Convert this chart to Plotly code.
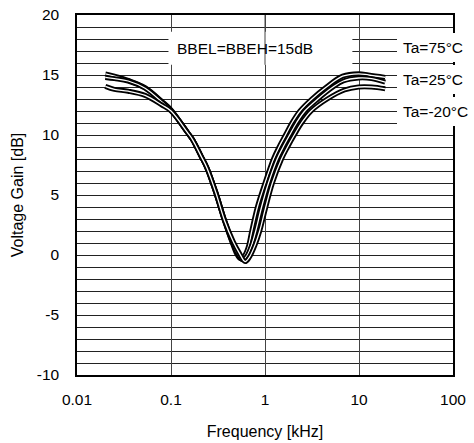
import plotly.graph_objects as go

# frequency [kHz] / gain [dB]
freq_75 = [0.02, 0.025, 0.035, 0.053, 0.08, 0.1, 0.15, 0.17, 0.21, 0.24, 0.30, 0.37, 0.45, 0.50, 0.545,
           0.60, 0.66, 0.723, 0.83, 1.0, 1.23, 1.41, 1.65, 1.93, 2.35, 3.15, 4.5, 6.7, 9.9, 12.6, 19]
gain_75 = [15.1, 14.9, 14.55, 13.95, 12.8, 12.1, 10.2, 9.6, 8.2, 7.3, 5.2, 2.9, 1.0, 0.1, -0.3,
           -0.1, 0.6, 2.0, 4.0, 6.0, 8.0, 9.0, 10.0, 11.0, 12.0, 13.0, 14.0, 14.9, 15.1, 15.0, 14.8]

freq_25 = [0.02, 0.025, 0.035, 0.053, 0.08, 0.1, 0.15, 0.17, 0.21, 0.24, 0.30, 0.37, 0.45, 0.51, 0.575,
           0.64, 0.72, 0.797, 0.92, 1.09, 1.35, 1.56, 1.83, 2.16, 2.65, 3.65, 5.3, 6.8, 9.9, 13.6, 19]
gain_25 = [14.8, 14.7, 14.5, 13.9, 12.75, 12.05, 10.2, 9.6, 8.2, 7.3, 5.2, 2.9, 1.05, 0.15, -0.4,
           -0.1, 0.8, 2.0, 4.0, 6.0, 8.0, 9.0, 10.0, 11.0, 12.0, 13.0, 14.0, 14.5, 14.75, 14.7, 14.4]

freq_m20 = [0.02, 0.025, 0.035, 0.053, 0.08, 0.1, 0.15, 0.17, 0.21, 0.24, 0.30, 0.37, 0.46, 0.53, 0.615,
            0.68, 0.78, 0.879, 1.02, 1.2, 1.5, 1.74, 2.05, 2.45, 3.1, 4.6, 7.0, 9.9, 13.6, 19]
gain_m20 = [14.05, 13.8, 13.65, 13.3, 12.5, 12.0, 10.2, 9.6, 8.2, 7.3, 5.2, 2.9, 1.1, 0.2, -0.55,
            -0.2, 0.8, 2.0, 4.0, 6.0, 8.0, 9.0, 10.0, 11.0, 12.0, 13.0, 13.75, 14.0, 14.0, 13.85]

x_ticks = [0.01, 0.1, 1, 10, 100]
x_ticktext = ["0.01", "0.1", "1", "10", "100"]
y_ticks = [-10, -5, 0, 5, 10, 15, 20]
y_ticktext = ["-10", "-5", "0", "5", "10", "15", "20"]
curve_labels = ["Ta=75°C", "Ta=25°C", "Ta=-20°C"]
label_y = [17.3, 14.65, 12.0]

FONT = "Liberation Sans, Arial, sans-serif"

fig = go.Figure()
for fx, gy in [(freq_75, gain_75), (freq_25, gain_25), (freq_m20, gain_m20)]:
    # outlined look: thick black stroke with thin white core
    fig.add_trace(go.Scatter(x=fx, y=gy, mode="lines", line=dict(color="black", width=5, shape="spline"),
                             showlegend=False, hoverinfo="skip"))
    fig.add_trace(go.Scatter(x=fx, y=gy, mode="lines", line=dict(color="white", width=1.3, shape="spline"),
                             showlegend=False, hoverinfo="skip"))

# white box behind the condition note, grid line at 1 kHz still crosses it
fig.add_shape(type="rect", xref="x", yref="y", x0=0.094, x1=8.5, y0=15.85, y1=18.6,
              fillcolor="white", line_width=0, layer="between")
fig.add_shape(type="line", xref="x", yref="y", x0=1, x1=1, y0=15.85, y1=20,
              line=dict(color="#444", width=1), layer="between")
fig.add_annotation(x=-0.21, y=17.25, xref="x", yref="y", text="BBEL=BBEH=15dB", showarrow=False,
                   font=dict(size=15.5, color="black", family=FONT))

for lab, ly in zip(curve_labels, label_y):
    fig.add_annotation(x=1.40, y=ly, xref="x", yref="y", text=lab, showarrow=False, xanchor="left",
                       bgcolor="white", borderpad=6, borderwidth=0,
                       font=dict(size=15.5, color="black", family=FONT))

fig.update_layout(
    width=474, height=443,
    margin=dict(l=77, r=21, t=15, b=68, autoexpand=False),
    plot_bgcolor="white", paper_bgcolor="white",
    font=dict(family=FONT, size=15.5, color="black"),
)
fig.update_xaxes(type="log", range=[-2, 2], tickvals=x_ticks, ticktext=x_ticktext,
                 showgrid=True, gridcolor="#444", gridwidth=1, automargin=False,
                 showline=True, linecolor="black", linewidth=1.5, mirror=True,
                 ticks="outside", ticklen=10, tickcolor="rgba(0,0,0,0)",
                 tickfont=dict(size=15.5), zeroline=False, ticklabeloverflow="allow",
                 title=dict(text="Frequency [kHz]", font=dict(size=16), standoff=18))
fig.update_yaxes(range=[-10, 20], tickvals=y_ticks, ticktext=y_ticktext,
                 showgrid=True, gridcolor="#222", gridwidth=1, automargin=False,
                 minor=dict(dtick=1, tick0=0, showgrid=True, gridcolor="#222", gridwidth=1),
                 showline=True, linecolor="black", linewidth=1.5, mirror=True,
                 ticks="outside", ticklen=13, tickcolor="rgba(0,0,0,0)",
                 tickfont=dict(size=15.5), zeroline=False, ticklabeloverflow="allow",
                 title=dict(text="Voltage Gain [dB]", font=dict(size=16), standoff=9))

# drop the browser's default body margin so the figure fills the window
fig.write_html("out.html", config={"displayModeBar": False},
               post_script="document.body.style.margin='0';")
